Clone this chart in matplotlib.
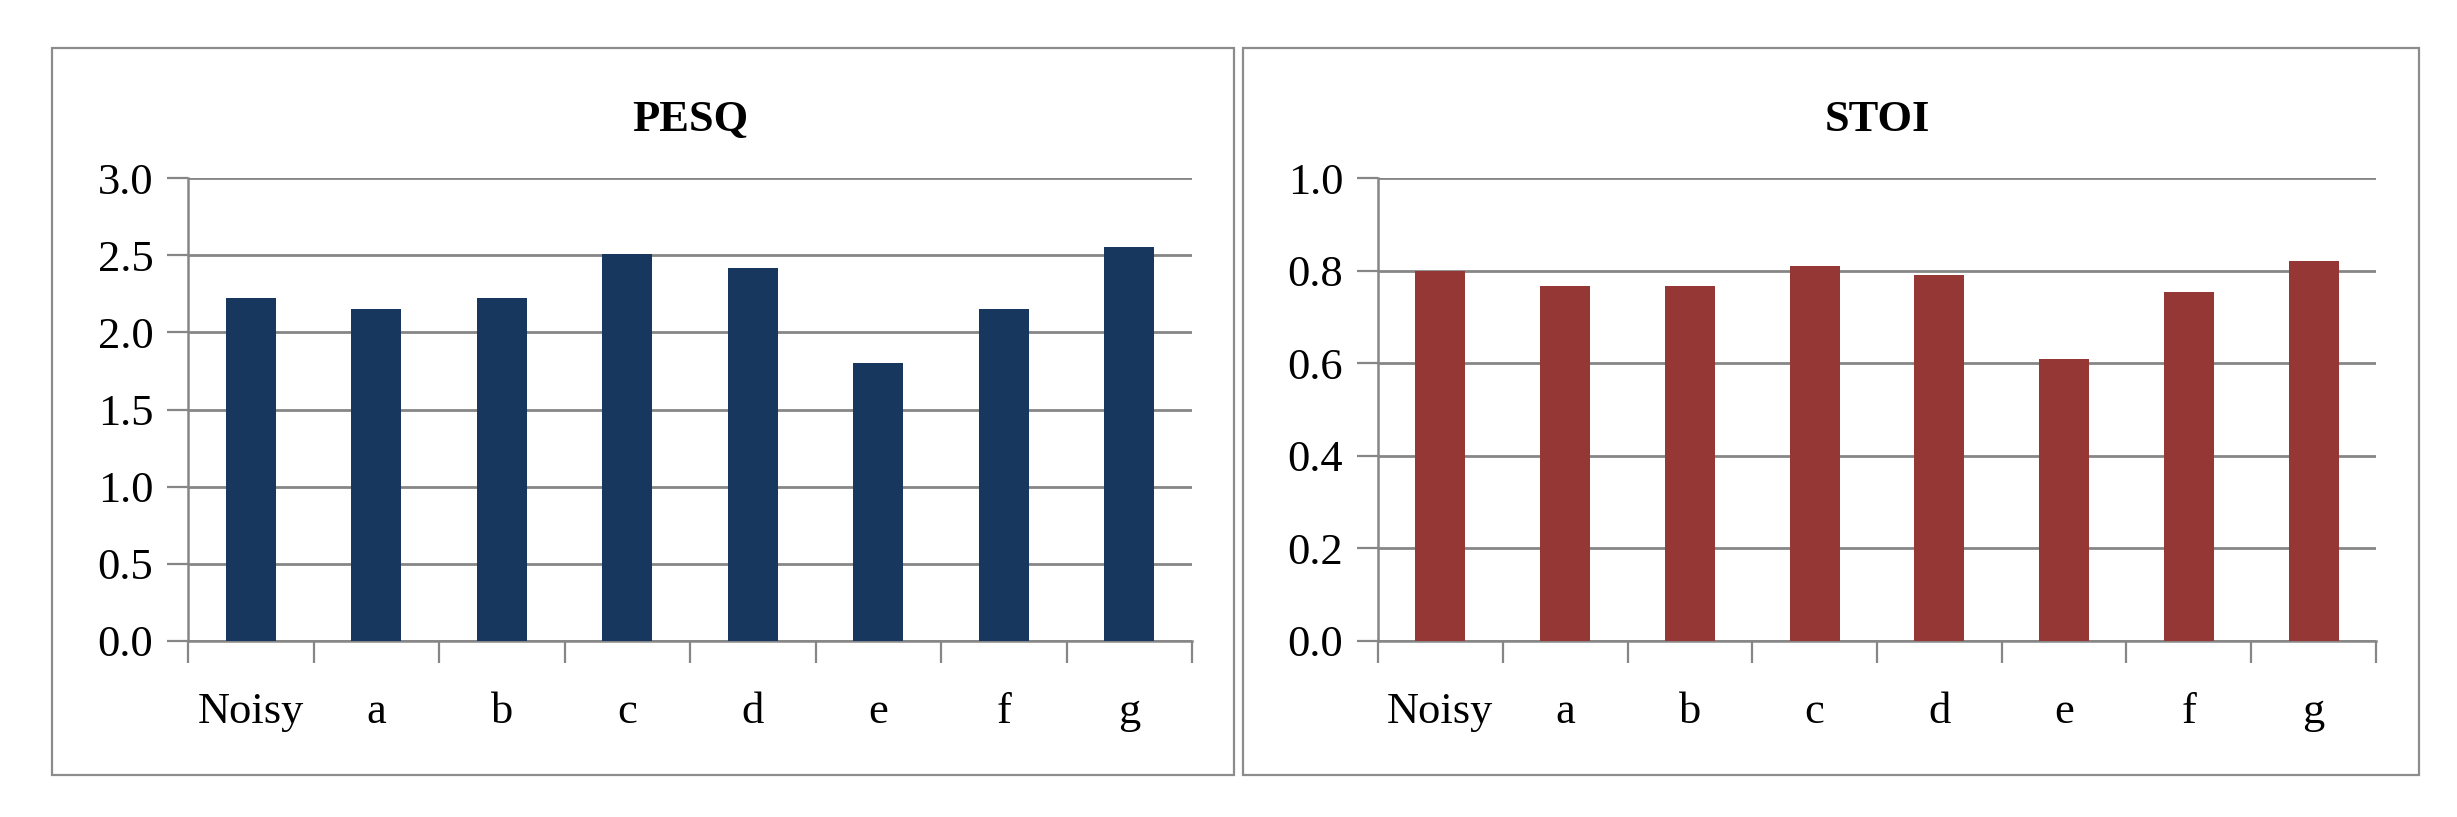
import matplotlib
matplotlib.use("Agg")
import matplotlib.pyplot as plt
from matplotlib.patches import Rectangle

# Values
categories = ["Noisy", "a", "b", "c", "d", "e", "f", "g"]
pesq_values = [2.22, 2.15, 2.22, 2.51, 2.42, 1.80, 2.15, 2.55]
stoi_values = [0.80, 0.766, 0.766, 0.81, 0.79, 0.61, 0.754, 0.82]
pesq_ticks = [0.0, 0.5, 1.0, 1.5, 2.0, 2.5, 3.0]
stoi_ticks = [0.0, 0.2, 0.4, 0.6, 0.8, 1.0]

W, H = 2457, 817
GRID = "#868686"
plt.rcParams["font.family"] = ["Liberation Serif", "DejaVu Serif"]

fig = plt.figure(figsize=(W / 100, H / 100), dpi=100)


def px_box(x0, y0, x1, y1):
    """Convert pixel box (top-left origin) to figure fraction rect."""
    return [x0 / W, 1 - y1 / H, (x1 - x0) / W, (y1 - y0) / H]


def draw_panel(rect, frame, values, ticks, color, title):
    # outer chart border
    fx0, fy0, fx1, fy1 = frame
    fig.patches.append(Rectangle((fx0 / W, 1 - fy1 / H), (fx1 - fx0) / W, (fy1 - fy0) / H,
                                 transform=fig.transFigure, fill=False,
                                 edgecolor="#8c8c8c", linewidth=1.6))

    ax = fig.add_axes(px_box(*rect))
    x = range(len(categories))
    ax.bar(x, values, width=0.4, color=color, zorder=3)
    ax.set_xlim(-0.5, len(categories) - 0.5)
    ax.set_ylim(ticks[0], ticks[-1])

    ax.set_yticks(ticks)
    ax.set_yticklabels([f"{t:.1f}" for t in ticks])
    ax.yaxis.grid(True, color=GRID, linewidth=2, zorder=0)

    # category boundaries carry the tick marks, labels sit at centres
    ax.set_xticks([i - 0.5 for i in range(len(categories) + 1)])
    ax.set_xticklabels([])
    ax.set_xticks(list(x), minor=True)
    ax.set_xticklabels(categories, minor=True)
    ax.tick_params(axis="x", which="major", direction="out", length=16, width=1.6, color=GRID)
    ax.tick_params(axis="x", which="minor", length=0, pad=37, labelsize=32)
    ax.tick_params(axis="y", direction="out", length=15, width=1.6, color=GRID,
                   labelsize=32, pad=10)

    for side in ("top", "right"):
        ax.spines[side].set_visible(False)
    for side in ("left", "bottom"):
        ax.spines[side].set_color(GRID)
        ax.spines[side].set_linewidth(1.8)

    cx = (rect[0] + rect[2]) / 2 / W
    fig.text(cx, 1 - 120 / H, title, ha="center", va="center",
             fontsize=32, fontweight="bold")
    return ax


draw_panel((188, 178, 1192, 641), (52, 48, 1234, 775), pesq_values, pesq_ticks, "#17375E", "PESQ")
draw_panel((1378, 178, 2376, 641), (1243, 48, 2419, 775), stoi_values, stoi_ticks, "#953735", "STOI")

fig.savefig("out.png", dpi=100, facecolor="white")
